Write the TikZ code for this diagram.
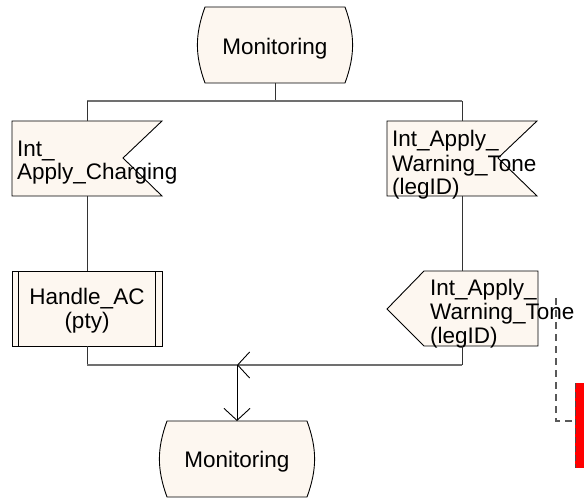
\documentclass[tikz,border=0pt]{standalone}
\usepackage{fontspec}
\setmainfont{Liberation Sans}
\usetikzlibrary{arrows.meta}
\definecolor{symfill}{RGB}{253,247,240}
\definecolor{flowgray}{RGB}{112,112,112}
\begin{document}
\begin{tikzpicture}[x=1pt,y=-1pt,
  symbol/.style={draw=black,fill=symfill,line width=0.9pt},
  label/.style={inner sep=0pt,font=\fontsize{22.5}{24}\selectfont},
  flow/.style={draw=black!80,line width=0.9pt},
  bus/.style={draw=flowgray,line width=1.4pt},
  barb/.style={-{Straight Barb[length=12pt,width=26pt,line width=0.9pt,color=black]}},
  trace/.style={draw=black!65,line width=1.2pt,dash pattern=on 7pt off 5pt}]
\useasboundingbox (0,0) rectangle (584,500);

% state symbols
\draw[symbol] (205,7) -- (345,7) to[bend left=20] (345,83) -- (205,83) to[bend left=20] cycle;
\node[label,anchor=base] (mon1) at (275,55) {Monitoring};
\draw[symbol] (167,421) -- (307,421) to[bend left=20] (307,497) -- (167,497) to[bend left=20] cycle;
\node[label,anchor=base] (mon2) at (237,467) {Monitoring};

% input signals (base anchor = last text line)
\draw[symbol] (12,121) -- (162,121) -- (123,158) -- (162,196) -- (12,196) -- cycle;
\node[label,anchor=base west,align=left] (in1) at (17,180) {Int\_\\Apply\_Charging};
\draw[symbol] (387,121) -- (537,121) -- (498,158) -- (537,196) -- (387,196) -- cycle;
\node[label,anchor=base west,align=left] (in2) at (392,195) {Int\_Apply\_\\Warning\_Tone\\(legID)};

% procedure call
\draw[symbol] (12,271) rectangle (162,346);
\draw[black,line width=0.9pt] (18,271) -- (18,346) (155,271) -- (155,346);
\node[label,anchor=base,align=center] (proc) at (87,328) {Handle\_AC\\(pty)};

% output signal
\draw[symbol] (424,271) -- (538,271) -- (538,346) -- (424,346) -- (387,309) -- cycle;
\node[label,anchor=base west,align=left] (out1) at (430,343) {Int\_Apply\_\\Warning\_Tone\\(legID)};

% connection points
\coordinate (m1b) at (275,83);
\coordinate (split) at (275,101);
\coordinate (splitL) at (87,101);
\coordinate (splitR) at (462,101);
\coordinate (in1t) at (87,121);
\coordinate (in1b) at (87,196);
\coordinate (in2t) at (462,121);
\coordinate (in2b) at (462,196);
\coordinate (proct) at (87,271);
\coordinate (procb) at (87,346);
\coordinate (out1t) at (462,271);
\coordinate (out1b) at (462,346);
\coordinate (joinL) at (87,365);
\coordinate (joinR) at (462,365);
\coordinate (join) at (237,365);
\coordinate (m2t) at (237,421);

% flow lines
\draw[flow] (m1b) -- (split);
\draw[bus] (splitL) -- (splitR);
\draw[flow] (splitL) -- (in1t);
\draw[flow] (splitR) -- (in2t);
\draw[flow] (in1b) -- (proct);
\draw[flow] (in2b) -- (out1t);
\draw[flow] (procb) -- (joinL);
\draw[flow] (out1b) -- (joinR);
\draw[bus] (joinL) -- (join);
\draw[bus,barb] (joinR) -- (join);
\draw[flow,draw=black,barb] (join) -- (m2t);

% comment trace
\coordinate (tr1) at (556,298);
\coordinate (tr2) at (556,421);
\coordinate (tr3) at (575,421);
\draw[trace] (tr1) -- (tr2) -- (tr3);
\fill[red] (575,383) rectangle (590,468);
\draw[black!70,line width=1pt,dash pattern=on 6pt off 3pt] (575,383) -- (575,468);
\end{tikzpicture}
\end{document}
